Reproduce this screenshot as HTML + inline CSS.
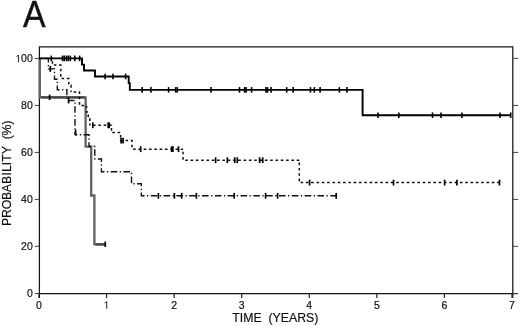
<!DOCTYPE html>
<html><head><meta charset="utf-8"><style>
html,body{margin:0;padding:0;background:#fff;width:520px;height:326px;overflow:hidden;}
body{position:relative;font-family:"Liberation Sans",sans-serif;}
</style></head><body>
<svg width="520" height="326" viewBox="0 0 520 326" style="position:absolute;left:0;top:0;will-change:transform"><g stroke="#151515" stroke-width="1.25" fill="none"><path d="M39.4,297.9 V46.8 H512.8 V297.9"/><path d="M39.4,293.5 H517.6"/></g><g stroke="#444" stroke-width="1"><line x1="34.8" y1="58.4" x2="39" y2="58.4"/><line x1="512.8" y1="58.4" x2="518.2" y2="58.4"/><line x1="34.8" y1="105.4" x2="39" y2="105.4"/><line x1="512.8" y1="105.4" x2="518.2" y2="105.4"/><line x1="34.8" y1="152.4" x2="39" y2="152.4"/><line x1="512.8" y1="152.4" x2="518.2" y2="152.4"/><line x1="34.8" y1="199.4" x2="39" y2="199.4"/><line x1="512.8" y1="199.4" x2="518.2" y2="199.4"/><line x1="34.8" y1="246.3" x2="39" y2="246.3"/><line x1="512.8" y1="246.3" x2="518.2" y2="246.3"/><line x1="34.8" y1="293.5" x2="39" y2="293.5"/><line x1="512.8" y1="293.5" x2="518.2" y2="293.5"/></g><g stroke="#222" stroke-width="1.2"><line x1="39.00" y1="293.5" x2="39.00" y2="297.9"/><line x1="106.57" y1="293.5" x2="106.57" y2="297.9"/><line x1="174.14" y1="293.5" x2="174.14" y2="297.9"/><line x1="241.71" y1="293.5" x2="241.71" y2="297.9"/><line x1="309.28" y1="293.5" x2="309.28" y2="297.9"/><line x1="376.85" y1="293.5" x2="376.85" y2="297.9"/><line x1="444.42" y1="293.5" x2="444.42" y2="297.9"/><line x1="511.99" y1="293.5" x2="511.99" y2="297.9"/></g><path d="M39.8,58.4 V97.3 H85.6 V146.6 H91.2 V195.5 H94.4 V244.3 H105.3" stroke="#626262" stroke-width="2.3" fill="none"/><path d="M40.9,97.3 H84.5 M95.5,244.3 H105.3" stroke="#474747" stroke-width="2.3" fill="none"/><path d="M39.00,58.40 L52.40,58.40 L52.40,65.10 L60.80,65.10 L60.80,78.60 L68.80,78.60 L68.80,85.30 L71.00,85.30 L71.00,92.00" stroke="#111" stroke-width="1.5" fill="none" stroke-dasharray="2.6 2.711" stroke-dashoffset="5.048"/><path d="M71.00,92.00 L79.50,92.00 L79.50,105.40 L86.50,105.40 L86.50,112.10 L88.20,112.10 L88.20,118.80 L89.80,118.80 L89.80,125.30" stroke="#111" stroke-width="1.5" fill="none" stroke-dasharray="2.6 2.711" stroke-dashoffset="2.705"/><path d="M89.80,125.30 L111.50,125.30 L111.50,132.60 L120.60,132.60 L120.60,140.60 L132.00,140.60 L132.00,149.20" stroke="#111" stroke-width="1.5" fill="none" stroke-dasharray="2.6 2.711" stroke-dashoffset="2.095"/><path d="M132.00,149.20 L183.00,149.20" stroke="#111" stroke-width="1.5" fill="none" stroke-dasharray="2.6 2.711" stroke-dashoffset="4.263"/><path d="M183.00,149.20 L183.00,160.20 L299.30,160.20" stroke="#111" stroke-width="1.5" fill="none" stroke-dasharray="2.6 2.711" stroke-dashoffset="2.753"/><path d="M299.30,160.20 L299.30,182.60 L499.50,182.60" stroke="#111" stroke-width="1.5" fill="none" stroke-dasharray="2.6 2.711" stroke-dashoffset="2.889"/><path d="M39.00,58.40 L48.40,58.40 L48.40,68.90 L54.50,68.90 L54.50,79.20 L57.30,79.20 L57.30,89.80 L66.90,89.80 L66.90,100.50 L75.00,100.50 L75.00,134.80" stroke="#111" stroke-width="1.4" fill="none" stroke-dasharray="6.6 2.46 1.3 2.46" stroke-dashoffset="5.890"/><path d="M75.00,134.80 L89.00,134.80 L89.00,146.50 L94.80,146.50 L94.80,159.00 L101.40,159.00 L101.40,171.80 L131.50,171.80 L131.50,183.80 L141.30,183.80 L141.30,195.80 L336.30,195.80" stroke="#111" stroke-width="1.4" fill="none" stroke-dasharray="6.6 2.46 1.3 2.46" stroke-dashoffset="4.260"/><path d="M39,58.4 H82 V64.6 H84 V70.5 H95 V76.5 H128.7 V83.1 H129.8 V89.9 H362.6 V115.2 H511" stroke="#000" stroke-width="1.9" fill="none"/><g stroke="#000" stroke-width="1.6"><line x1="51.3" y1="55.60" x2="51.3" y2="61.20"/><line x1="62.5" y1="55.60" x2="62.5" y2="61.20"/><line x1="64.2" y1="55.60" x2="64.2" y2="61.20"/><line x1="66.4" y1="55.60" x2="66.4" y2="61.20"/><line x1="68.2" y1="55.60" x2="68.2" y2="61.20"/><line x1="70.3" y1="55.60" x2="70.3" y2="61.20"/><line x1="74.9" y1="55.60" x2="74.9" y2="61.20"/><line x1="79.6" y1="55.60" x2="79.6" y2="61.20"/><line x1="105.1" y1="73.70" x2="105.1" y2="79.30"/><line x1="113" y1="73.70" x2="113" y2="79.30"/><line x1="125.6" y1="73.70" x2="125.6" y2="79.30"/><line x1="142.2" y1="87.10" x2="142.2" y2="92.70"/><line x1="150.9" y1="87.10" x2="150.9" y2="92.70"/><line x1="168.6" y1="87.10" x2="168.6" y2="92.70"/><line x1="175.7" y1="87.10" x2="175.7" y2="92.70"/><line x1="177.3" y1="87.10" x2="177.3" y2="92.70"/><line x1="211" y1="87.10" x2="211" y2="92.70"/><line x1="239.5" y1="87.10" x2="239.5" y2="92.70"/><line x1="244.6" y1="87.10" x2="244.6" y2="92.70"/><line x1="246.1" y1="87.10" x2="246.1" y2="92.70"/><line x1="251.6" y1="87.10" x2="251.6" y2="92.70"/><line x1="266" y1="87.10" x2="266" y2="92.70"/><line x1="267.5" y1="87.10" x2="267.5" y2="92.70"/><line x1="271" y1="87.10" x2="271" y2="92.70"/><line x1="286.7" y1="87.10" x2="286.7" y2="92.70"/><line x1="293.2" y1="87.10" x2="293.2" y2="92.70"/><line x1="310.5" y1="87.10" x2="310.5" y2="92.70"/><line x1="314.3" y1="87.10" x2="314.3" y2="92.70"/><line x1="320.1" y1="87.10" x2="320.1" y2="92.70"/><line x1="339.4" y1="87.10" x2="339.4" y2="92.70"/><line x1="346.9" y1="87.10" x2="346.9" y2="92.70"/><line x1="378" y1="112.40" x2="378" y2="118.00"/><line x1="398.8" y1="112.40" x2="398.8" y2="118.00"/><line x1="432.5" y1="112.40" x2="432.5" y2="118.00"/><line x1="441" y1="112.40" x2="441" y2="118.00"/><line x1="461.9" y1="112.40" x2="461.9" y2="118.00"/><line x1="500" y1="112.40" x2="500" y2="118.00"/><line x1="510.7" y1="112.40" x2="510.7" y2="118.00"/></g><g stroke="#000" stroke-width="1.7"><line x1="92.8" y1="122.40" x2="92.8" y2="128.20"/><line x1="108.2" y1="122.40" x2="108.2" y2="128.20"/><line x1="109.2" y1="122.40" x2="109.2" y2="128.20"/><line x1="121.1" y1="137.70" x2="121.1" y2="143.50"/><line x1="123.1" y1="137.70" x2="123.1" y2="143.50"/><line x1="140.7" y1="146.30" x2="140.7" y2="152.10"/><line x1="171.6" y1="146.30" x2="171.6" y2="152.10"/><line x1="172.9" y1="146.30" x2="172.9" y2="152.10"/><line x1="178.5" y1="146.30" x2="178.5" y2="152.10"/><line x1="215.6" y1="157.30" x2="215.6" y2="163.10"/><line x1="227.3" y1="157.30" x2="227.3" y2="163.10"/><line x1="234.7" y1="157.30" x2="234.7" y2="163.10"/><line x1="237.3" y1="157.30" x2="237.3" y2="163.10"/><line x1="259.6" y1="157.30" x2="259.6" y2="163.10"/><line x1="262.7" y1="157.30" x2="262.7" y2="163.10"/><line x1="309.6" y1="179.70" x2="309.6" y2="185.50"/><line x1="393.5" y1="179.70" x2="393.5" y2="185.50"/><line x1="444.6" y1="179.70" x2="444.6" y2="185.50"/><line x1="456.9" y1="179.70" x2="456.9" y2="185.50"/><line x1="499.5" y1="179.70" x2="499.5" y2="185.50"/><line x1="50.3" y1="66.00" x2="50.3" y2="71.80"/><line x1="68.6" y1="97.60" x2="68.6" y2="103.40"/><line x1="75.6" y1="129.60" x2="75.6" y2="135.40"/><line x1="158.4" y1="192.90" x2="158.4" y2="198.70"/><line x1="174.4" y1="192.90" x2="174.4" y2="198.70"/><line x1="181.6" y1="192.90" x2="181.6" y2="198.70"/><line x1="196.4" y1="192.90" x2="196.4" y2="198.70"/><line x1="234.2" y1="192.90" x2="234.2" y2="198.70"/><line x1="265.6" y1="192.90" x2="265.6" y2="198.70"/><line x1="277.6" y1="192.90" x2="277.6" y2="198.70"/><line x1="336.2" y1="192.90" x2="336.2" y2="198.70"/><line x1="49.6" y1="94.55" x2="49.6" y2="100.05"/><line x1="105.3" y1="241.55" x2="105.3" y2="247.05"/></g><g font-family="Liberation Sans" fill="#111" stroke="#111" stroke-width="0.2"><text transform="translate(34.35,27.3) scale(0.93,1)" text-anchor="middle" font-size="36.4" stroke="#111" stroke-width="0.35">A</text><path d="M515,0V1237L197,1010V1180L530,1409H696V0Z" transform="translate(15.28,62.20) scale(0.005127,-0.005127)"/><text x="32.8" y="62.2" font-size="10.5" text-anchor="end">00</text><text x="32.8" y="109.2" font-size="10.5" text-anchor="end">80</text><text x="32.8" y="156.2" font-size="10.5" text-anchor="end">60</text><text x="32.8" y="203.2" font-size="10.5" text-anchor="end">40</text><text x="32.8" y="250.1" font-size="10.5" text-anchor="end">20</text><text x="32.8" y="297.3" font-size="10.5" text-anchor="end">0</text><text x="39.00" y="308.8" font-size="10.5" text-anchor="middle">0</text><path d="M515,0V1237L197,1010V1180L530,1409H696V0Z" transform="translate(103.65,308.80) scale(0.005127,-0.005127)"/><text x="174.14" y="308.8" font-size="10.5" text-anchor="middle">2</text><text x="241.71" y="308.8" font-size="10.5" text-anchor="middle">3</text><text x="309.28" y="308.8" font-size="10.5" text-anchor="middle">4</text><text x="376.85" y="308.8" font-size="10.5" text-anchor="middle">5</text><text x="444.42" y="308.8" font-size="10.5" text-anchor="middle">6</text><text x="511.99" y="308.8" font-size="10.5" text-anchor="middle">7</text><text x="232.3" y="322.2" font-size="12.3" xml:space="preserve">TIME  (YEARS)</text><text transform="translate(10.8,226.1) rotate(-90)" x="0.00 8.12 16.82 26.11 33.93 42.16 50.60 54.17 60.95 64.34 72.18 79.69 83.08 86.77 90.72 101.56" y="0" font-size="12.2" xml:space="preserve">PROBABILITY  (%)</text></g></svg>
</body></html>
